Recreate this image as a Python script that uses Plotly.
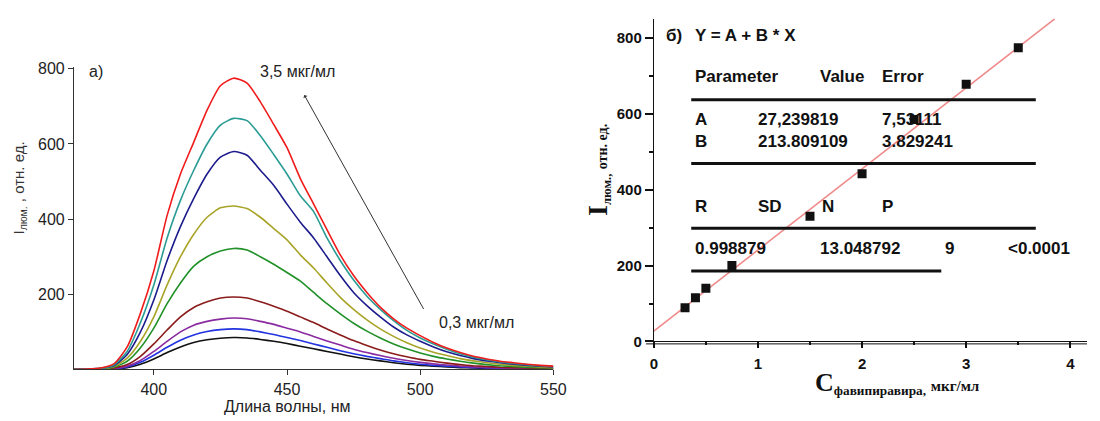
import plotly.graph_objects as go

# ---------------- data: panel a) spectra ----------------
wavelength = list(range(370, 551, 5))

spec_3_5 = [0, 1, 4, 15, 60, 150, 262, 410, 520, 605, 690, 755, 775, 762, 712, 652, 590, 508, 440, 372,
            305, 250, 205, 166, 135, 110, 90, 72, 57, 45, 35, 28, 22, 18, 14, 11, 9]
spec_3_0 = [0, 1, 3, 12, 48, 125, 225, 350, 450, 530, 600, 650, 668, 662, 622, 572, 520, 462, 420, 350,
            290, 238, 195, 160, 130, 104, 84, 68, 54, 42, 33, 26, 20, 16, 13, 10, 8]
spec_2_5 = [0, 1, 3, 10, 40, 100, 185, 290, 380, 455, 520, 565, 580, 570, 530, 490, 440, 392, 350, 300,
            250, 205, 170, 140, 113, 92, 75, 60, 47, 37, 29, 23, 18, 14, 11, 9, 7]
spec_2_0 = [0, 0, 2, 8, 30, 75, 140, 225, 300, 360, 405, 430, 435, 428, 405, 375, 345, 305, 270, 230,
            192, 160, 132, 108, 88, 71, 57, 46, 37, 29, 23, 18, 14, 11, 9, 7, 5]
spec_1_5 = [0, 0, 2, 6, 22, 58, 110, 175, 230, 275, 300, 315, 322, 318, 300, 280, 258, 235, 205, 175,
            148, 123, 102, 84, 68, 55, 44, 35, 28, 22, 17, 13, 10, 8, 6, 5, 4]
spec_0_75 = [0, 0, 1, 4, 13, 35, 68, 105, 140, 165, 180, 190, 193, 190, 180, 168, 155, 140, 125, 108,
             92, 77, 64, 52, 42, 34, 27, 22, 17, 13, 10, 8, 6, 5, 4, 3, 2]
spec_0_5 = [0, 0, 1, 3, 9, 24, 48, 75, 100, 118, 128, 134, 137, 135, 128, 120, 110, 100, 88, 76,
            65, 54, 45, 37, 30, 24, 19, 15, 12, 9, 7, 5, 4, 3, 2, 2, 1]
spec_0_4 = [0, 0, 1, 2, 7, 19, 38, 59, 78, 92, 101, 106, 108, 106, 100, 93, 85, 77, 68, 59,
            50, 42, 35, 29, 23, 18, 14, 11, 9, 7, 5, 4, 3, 2, 2, 1, 1]
spec_0_3 = [0, 0, 0, 2, 5, 14, 28, 45, 60, 72, 79, 83, 85, 84, 80, 75, 69, 62, 55, 48,
            41, 34, 28, 23, 18, 14, 11, 9, 7, 5, 4, 3, 2, 2, 1, 1, 1]

spectra = [spec_0_3, spec_0_4, spec_0_5, spec_0_75, spec_1_5, spec_2_0, spec_2_5, spec_3_0, spec_3_5]
spectra_colors = ["#111111", "#2233e0", "#8a2aa0", "#8b1c1c", "#219128", "#a8a428",
                  "#1c1c8c", "#2a9c94", "#f01c1c"]
spectra_names = ["0,3", "0,4", "0,5", "0,75", "1,5", "2,0", "2,5", "3,0", "3,5"]

# ---------------- data: panel б) calibration ----------------
conc = [0.3, 0.4, 0.5, 0.75, 1.5, 2.0, 2.5, 3.0, 3.5]
intensity = [89, 115, 140, 200, 330, 442, 585, 678, 774]
fit_A = 27.239819
fit_B = 213.809109
fit_x = [0.0, 3.85]

left_xticks = [400, 450, 500, 550]
left_yticks = [200, 400, 600, 800]
right_xticks = [0, 1, 2, 3, 4]
right_yticks = [0, 200, 400, 600, 800]

W, H = 1100, 421
def px(x):
    return x / W
def py(y):
    return 1 - y / H

fig = go.Figure()

for s, c, n in zip(spectra, spectra_colors, spectra_names):
    fig.add_trace(go.Scatter(x=wavelength, y=s, mode="lines", name=n,
                             line=dict(color=c, width=1.6, shape="spline", smoothing=0.6),
                             xaxis="x", yaxis="y", showlegend=False))

fit_y = [fit_A + fit_B * v for v in fit_x]
fig.add_trace(go.Scatter(x=fit_x, y=fit_y, mode="lines", line=dict(color="#ef8a8a", width=1.6),
                         xaxis="x2", yaxis="y2", showlegend=False))
fig.add_trace(go.Scatter(x=conc, y=intensity, mode="markers",
                         marker=dict(symbol="square", size=9, color="#111111"),
                         xaxis="x2", yaxis="y2", showlegend=False))

lfont = dict(family="Liberation Sans, Arial", size=16, color="#222222")
bfont = dict(family="Liberation Sans, Arial", size=15, color="#111111", weight="bold")

fig.update_layout(
    width=W, height=H, margin=dict(l=0, r=0, t=0, b=0),
    paper_bgcolor="white", plot_bgcolor="white",
    xaxis=dict(domain=[px(71), px(558)], range=[370, 550], anchor="y",
               tickvals=left_xticks, ticks="outside", ticklen=5, tickcolor="#333",
               showline=True, linecolor="#333", linewidth=1, showgrid=False, zeroline=False,
               tickfont=lfont),
    yaxis=dict(domain=[py(376), py(63)], range=[0, 805], anchor="x",
               tickvals=left_yticks, ticks="outside", ticklen=5, tickcolor="#333",
               showline=True, linecolor="#333", linewidth=1, showgrid=False, zeroline=False,
               tickfont=lfont),
    xaxis2=dict(domain=[px(660), 1.0], range=[0, 4.16], anchor="y2",
                tickvals=right_xticks, ticks="outside", ticklen=6, tickcolor="#111", tickwidth=1.5,
                ticklabelstandoff=3,
                minor=dict(dtick=0.5, tick0=0, ticks="outside", ticklen=3, tickcolor="#111"),
                showline=True, linecolor="#111", linewidth=1, showgrid=False, zeroline=False,
                tickfont=bfont),
    yaxis2=dict(domain=[py(347), py(13)], range=[0, 851], anchor="x2",
                tickvals=right_yticks, ticks="outside", ticklen=8, tickcolor="#111", tickwidth=1.5,
                minor=dict(dtick=100, tick0=0, ticks="outside", ticklen=4, tickcolor="#111"),
                showline=True, linecolor="#111", linewidth=1, showgrid=False, zeroline=False,
                tickfont=bfont),
)

ann = []
# left panel texts
afont = dict(family="Liberation Sans, Arial", size=16, color="#222")
ann.append(dict(x=px(84), y=py(68), text="а)", showarrow=False, xanchor="left", yanchor="middle",
                xref="paper", yref="paper", font=afont))
ann.append(dict(x=px(258), y=py(68), text="3,5 мкг/мл", showarrow=False, xanchor="left", yanchor="middle",
                xref="paper", yref="paper", font=afont))
ann.append(dict(x=px(440), y=py(327), text="0,3 мкг/мл", showarrow=False, xanchor="left", yanchor="middle",
                xref="paper", yref="paper", font=afont))
ann.append(dict(x=456.5, y=730, ax=501.6, ay=157, xref="x", yref="y", axref="x", ayref="y",
                showarrow=True, arrowhead=1, arrowsize=0.8, arrowwidth=1, arrowcolor="#333", text=""))
ann.append(dict(x=px(288), y=py(414), text="Длина волны, нм", showarrow=False, xanchor="center",
                yanchor="middle", xref="paper", yref="paper",
                font=dict(family="Liberation Sans, Arial", size=16, color="#222")))
ann.append(dict(x=px(16), y=py(188), text="I<sub>люм.</sub> , отн. ед.", showarrow=False, textangle=-90,
                xanchor="center", yanchor="middle", xref="paper", yref="paper",
                font=dict(family="Liberation Sans, Arial", size=15, color="#333")))

# right panel axis titles
ann.append(dict(x=px(604), y=py(170),
                text="<b><span style='font-size:28px'>I</span><sub>люм.,</sub> <span style='font-size:14px'>отн. ед.</span></b>",
                showarrow=False, textangle=-90, xanchor="center", yanchor="middle", xref="paper", yref="paper",
                font=dict(family="Liberation Serif, Times New Roman", size=18, color="#111")))
ann.append(dict(x=px(908), y=py(390),
                text="<b><span style='font-size:26px'>C</span><sub>фавипиравира,</sub> <span style='font-size:15px'>мкг/мл</span></b>",
                showarrow=False, xanchor="center", yanchor="middle", xref="paper", yref="paper",
                font=dict(family="Liberation Serif, Times New Roman", size=19, color="#111")))

# right panel table
tfont = dict(family="Liberation Sans, Arial", size=17, color="#111", weight="bold")
table_cells = [
    ("б)", 670, 30), ("Y = A + B * X", 700, 30),
    ("Parameter", 700, 73), ("Value", 827, 73), ("Error", 890, 73),
    ("A", 700, 117), ("27,239819", 764, 117), ("7,53111", 890, 117),
    ("B", 700, 140), ("213.809109", 764, 140), ("3.829241", 890, 140),
    ("R", 700, 207), ("SD", 764, 207), ("N", 829, 207), ("P", 890, 207),
    ("0.998879", 700, 251), ("13.048792", 827, 251), ("9", 954, 251), ("&lt;0.0001", 1018, 251),
]
for t, x, y in table_cells:
    ann.append(dict(x=px(x), y=py(y), text=t, showarrow=False, xanchor="left", yanchor="middle",
                    xref="paper", yref="paper", font=tfont))
fig.update_layout(annotations=ann)

shapes = []
for y, x0, x1 in [(97, 698, 1048), (163, 698, 1048), (230, 698, 1048), (274, 698, 952)]:
    shapes.append(dict(type="line", xref="paper", yref="paper", x0=px(x0), x1=px(x1), y0=py(y), y1=py(y),
                       line=dict(color="#111", width=3)))
# double bottom axis line on right panel
shapes.append(dict(type="line", xref="paper", yref="paper", x0=px(652), x1=1.0, y0=py(349.5), y1=py(349.5),
                   line=dict(color="#111", width=1)))
fig.update_layout(shapes=shapes)

fig.write_html("out.html")
